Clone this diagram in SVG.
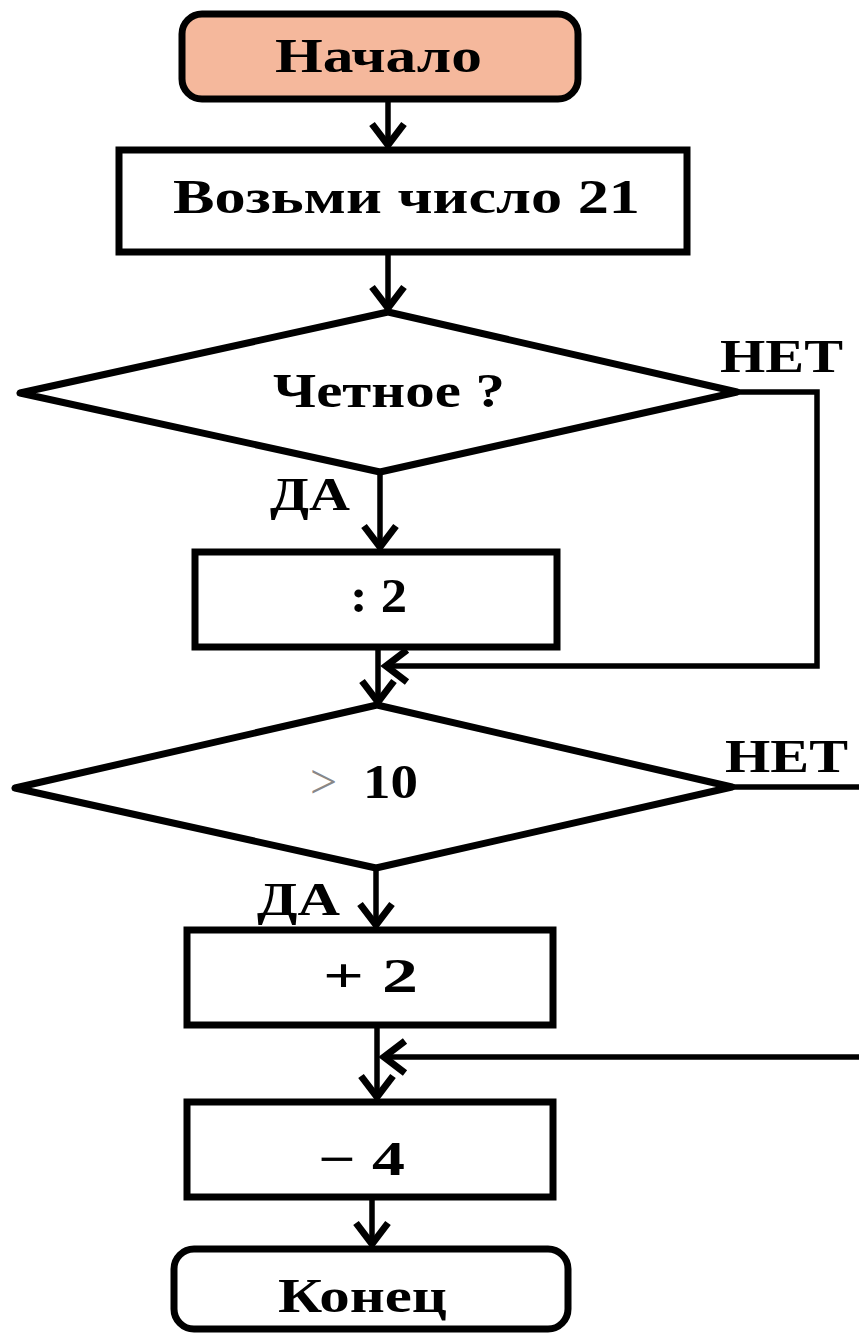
<svg xmlns="http://www.w3.org/2000/svg" width="859" height="1334" viewBox="0 0 859 1334">
<style>
.shape{fill:#fff;stroke:#000;stroke-width:7}
.term{fill:#F5B89C;stroke:#000;stroke-width:7}
.end{fill:#fff;stroke:#000;stroke-width:7}
.dia{fill:#fff;stroke:#000;stroke-width:7;stroke-linejoin:round}
.t{font-family:"Liberation Serif","Times New Roman",serif;font-weight:bold;font-size:48px;fill:#000}
.lbl{font-family:"Liberation Serif","Times New Roman",serif;font-weight:bold;font-size:46px;fill:#000}
.conn{fill:none;stroke:#000;stroke-width:5.5}
</style>
<defs>
<marker id="arr" markerUnits="userSpaceOnUse" markerWidth="40" markerHeight="40" viewBox="-32 -20 40 40" refX="0" refY="0" orient="auto" overflow="visible">
<path d="M -23 -16 L -2 0 L -23 16" fill="none" stroke="#000" stroke-width="7"/>
</marker>
</defs>
<rect width="859" height="1334" fill="#fff"/>

<g id="start">
<rect class="term" x="182" y="14" width="396" height="85" rx="20"/>
<text class="t" x="275" y="72" textLength="207" lengthAdjust="spacingAndGlyphs">Начало</text>
</g>

<g id="take21">
<rect class="shape" x="119" y="150" width="568" height="102"/>
<text class="t" x="173" y="213" textLength="467" lengthAdjust="spacingAndGlyphs">Возьми число  21</text>
</g>

<g id="even">
<polygon class="dia" points="20,393 388,312 737,392 380,472"/>
<text class="t" x="273" y="407" textLength="232" lengthAdjust="spacingAndGlyphs">Четное ?</text>
</g>

<g id="div2">
<rect class="shape" x="195" y="552" width="362" height="95"/>
<text class="t" x="350" y="612" textLength="57" lengthAdjust="spacingAndGlyphs">: 2</text>
</g>

<g id="gt10">
<polygon class="dia" points="15,788 377,705 732,787 376,868"/>
<text x="310" y="798" font-family="Liberation Serif, serif" font-size="48" fill="#888">&gt;</text>
<text class="t" x="363" y="798" textLength="55" lengthAdjust="spacingAndGlyphs">10</text>
</g>

<g id="plus2">
<rect class="shape" x="187" y="930" width="366" height="95"/>
<text class="t" x="323" y="992" textLength="95" lengthAdjust="spacingAndGlyphs">+  2</text>
</g>

<g id="minus4">
<rect class="shape" x="187" y="1102" width="366" height="95"/>
<text class="t" x="318" y="1175" textLength="87" lengthAdjust="spacingAndGlyphs">− 4</text>
</g>

<g id="end">
<rect class="end" x="174" y="1249" width="394" height="80" rx="20"/>
<text class="t" x="278" y="1312" textLength="169" lengthAdjust="spacingAndGlyphs">Конец</text>
</g>

<g id="connectors">
<path class="conn" d="M388 99 V147" marker-end="url(#arr)"/>
<path class="conn" d="M388 253 V310" marker-end="url(#arr)"/>
<path class="conn" d="M380 472 V549" marker-end="url(#arr)"/>
<path class="conn" d="M737 392 H817 V666 H384" marker-end="url(#arr)"/>
<path class="conn" d="M378 647 V704" marker-end="url(#arr)"/>
<path class="conn" d="M376 868 V927" marker-end="url(#arr)"/>
<path class="conn" d="M732 787 H859"/>
<path class="conn" d="M859 1057 H382" marker-end="url(#arr)"/>
<path class="conn" d="M377 1025 V1099" marker-end="url(#arr)"/>
<path class="conn" d="M372 1197 V1246" marker-end="url(#arr)"/>
<text class="lbl" x="720" y="372" textLength="123" lengthAdjust="spacingAndGlyphs">НЕТ</text>
<text class="lbl" x="270" y="510" textLength="80" lengthAdjust="spacingAndGlyphs">ДА</text>
<text class="lbl" x="725" y="772" textLength="123" lengthAdjust="spacingAndGlyphs">НЕТ</text>
<text class="lbl" x="257" y="915" textLength="83" lengthAdjust="spacingAndGlyphs">ДА</text>
</g>
</svg>
